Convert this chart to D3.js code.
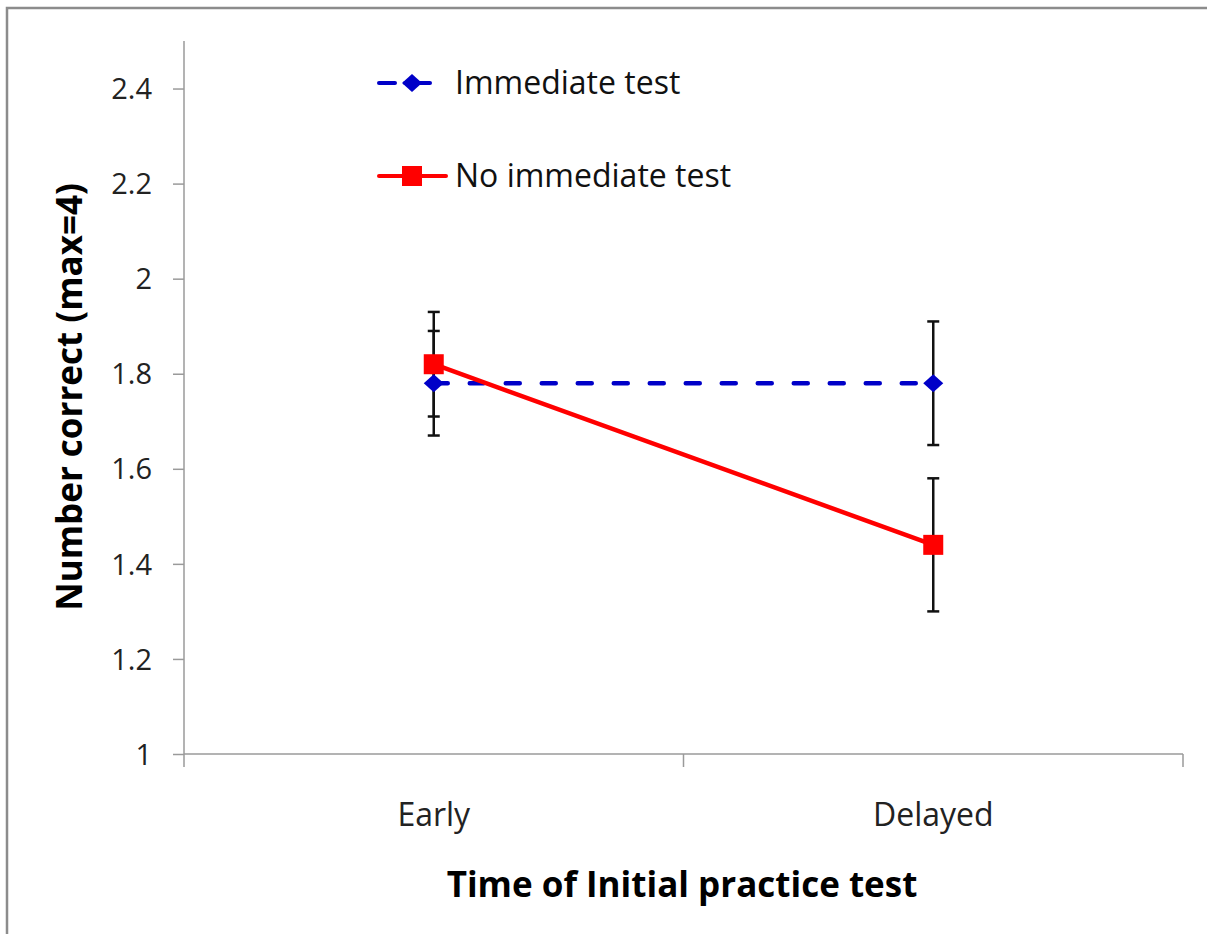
<!DOCTYPE html>
<meta charset="utf-8">
<style>
body { margin: 0; background: #fff; }
svg { font-family: "Open Sans", Lato, sans-serif; }
.axis path, .axis line { stroke: #9a9a9a; stroke-width: 1.5px; }
.axis text { font-family: "Open Sans", Lato, sans-serif; font-size: 29px; fill: #222; }
.axis text.cat { font-size: 32px; }
.err { stroke: #111; stroke-width: 2.5px; }
</style>
<svg width="1207" height="934"></svg>
<script src="https://cdn.jsdelivr.net/npm/d3@7/dist/d3.min.js"></script>
<script>

var categories = ["Early", "Delayed"];
var yTicks = [1, 1.2, 1.4, 1.6, 1.8, 2, 2.2, 2.4];

var immediate = [1.78, 1.78];
var immediateErr = [0.11, 0.13];
var noImmediate = [1.82, 1.44];
var noImmediateErr = [0.11, 0.14];

var series = [
  {name: "Immediate test", values: immediate, err: immediateErr, color: "#0000c8", dashed: true, marker: "diamond"},
  {name: "No immediate test", values: noImmediate, err: noImmediateErr, color: "#ff0000", dashed: false, marker: "square"}
];

var svg = d3.select("svg");

// outer frame (only top and left edges are visible in the picture)
svg.append("rect")
    .attr("x", 7).attr("y", 8)
    .attr("width", 1215).attr("height", 940)
    .attr("fill", "none")
    .attr("stroke", "#8c8c8c")
    .attr("stroke-width", 2.5);

var plotLeft = 184, plotRight = 1183, plotTop = 41, plotBottom = 754;

var x = d3.scaleBand().domain(categories).range([plotLeft, plotRight]);
var y = d3.scaleLinear().domain([1, 2.5]).range([plotBottom, plotTop]);

// y axis
var yAxis = svg.append("g")
    .attr("class", "axis")
    .attr("transform", "translate(" + plotLeft + ",0)")
    .call(d3.axisLeft(y).tickValues(yTicks).tickSize(11).tickPadding(21)
      .tickFormat(function(d) { return String(+d.toFixed(1)); }));
yAxis.select(".domain").attr("d", "M0," + plotTop + "V" + plotBottom);
yAxis.selectAll("text").attr("dy", "0.35em");

// x axis: ticks at band edges
var xAxis = svg.append("g")
    .attr("class", "axis")
    .attr("transform", "translate(0," + plotBottom + ")");
xAxis.append("line").attr("x1", plotLeft).attr("x2", plotRight).attr("y1", 0).attr("y2", 0);
xAxis.selectAll(".edge")
    .data([plotLeft, x(categories[1]), plotRight])
  .enter().append("line")
    .attr("x1", function(d) { return d; })
    .attr("x2", function(d) { return d; })
    .attr("y1", 0).attr("y2", 13);
xAxis.selectAll(".cat")
    .data(categories)
  .enter().append("text")
    .attr("class", "cat")
    .attr("x", function(d) { return x(d) + x.bandwidth() / 2; })
    .attr("y", 72)
    .attr("text-anchor", "middle")
    .text(function(d) { return d; });

// axis titles
svg.append("text")
    .attr("transform", "translate(82,397) rotate(-90)")
    .attr("text-anchor", "middle")
    .style("font-size", "35px")
    .style("font-weight", "bold")
    .text("Number correct (max=4)");

svg.append("text")
    .attr("x", 682).attr("y", 897)
    .attr("text-anchor", "middle")
    .style("font-size", "35px")
    .style("font-weight", "bold")
    .text("Time of Initial practice test");

function cx(i) { return x(categories[i]) + x.bandwidth() / 2; }

var line = d3.line()
    .x(function(d, i) { return cx(i); })
    .y(function(d) { return y(d); });

function drawMarker(g, type, color, px, py) {
  if (type === "square") {
    g.append("rect")
        .attr("x", px - 10).attr("y", py - 10)
        .attr("width", 20).attr("height", 20)
        .attr("fill", color);
  } else {
    g.append("path")
        .attr("d", "M" + px + "," + (py - 9) + "L" + (px + 10) + "," + py + "L" + px + "," + (py + 9) + "L" + (px - 10) + "," + py + "Z")
        .attr("fill", color);
  }
}

// lines
series.forEach(function(s) {
  svg.append("path")
      .attr("d", line(s.values))
      .attr("fill", "none")
      .attr("stroke", s.color)
      .attr("stroke-width", 4.5)
      .attr("stroke-linecap", "round")
      .attr("stroke-dasharray", s.dashed ? "14,22" : null);
});

// error bars
series.forEach(function(s) {
  var g = svg.append("g");
  s.values.forEach(function(v, i) {
    var hi = y(v + s.err[i]), lo = y(v - s.err[i]), px = cx(i);
    g.append("line").attr("class", "err").attr("x1", px).attr("x2", px).attr("y1", hi).attr("y2", lo);
    g.append("line").attr("class", "err").attr("x1", px - 6).attr("x2", px + 6).attr("y1", hi).attr("y2", hi);
    g.append("line").attr("class", "err").attr("x1", px - 6).attr("x2", px + 6).attr("y1", lo).attr("y2", lo);
  });
});

// markers
series.forEach(function(s) {
  var g = svg.append("g");
  s.values.forEach(function(v, i) { drawMarker(g, s.marker, s.color, cx(i), y(v)); });
});

// legend
var legend = svg.append("g");
var legendY = [83, 176];
series.forEach(function(s, i) {
  var ly = legendY[i];
  if (s.dashed) {
    legend.append("line").attr("x1", 379).attr("x2", 395).attr("y1", ly).attr("y2", ly)
        .attr("stroke", s.color).attr("stroke-width", 4).attr("stroke-linecap", "round");
    legend.append("line").attr("x1", 405).attr("x2", 430).attr("y1", ly).attr("y2", ly)
        .attr("stroke", s.color).attr("stroke-width", 4).attr("stroke-linecap", "round");
  } else {
    legend.append("line").attr("x1", 379).attr("x2", 446).attr("y1", ly).attr("y2", ly)
        .attr("stroke", s.color).attr("stroke-width", 4).attr("stroke-linecap", "round");
  }
  drawMarker(legend, s.marker, s.color, 412, ly);
  legend.append("text")
      .attr("x", 455).attr("y", ly)
      .attr("dy", "0.35em")
      .style("font-size", "32px")
      .style("fill", "#111")
      .text(s.name);
});

</script>
